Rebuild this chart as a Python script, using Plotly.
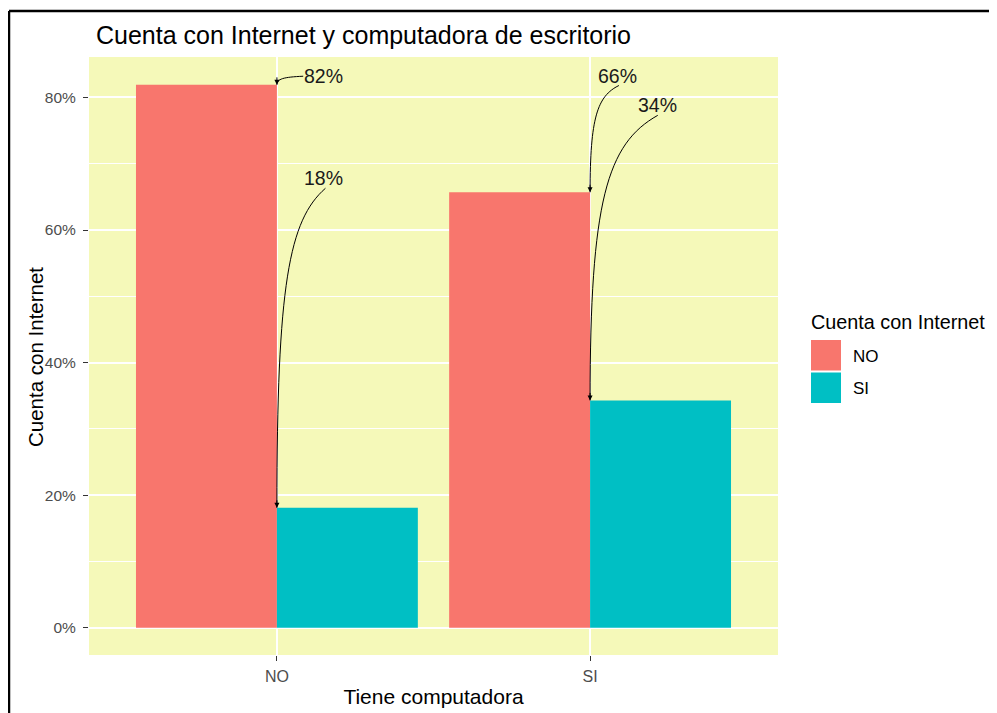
import plotly.graph_objects as go

# ---- data ----
computadora = ["NO", "SI"]            # x categories (Tiene computadora)
internet_groups = ["NO", "SI"]        # fill groups (Cuenta con Internet)
pct_internet_no = [81.9, 65.7]        # % without internet, per computadora group
pct_internet_si = [18.1, 34.3]        # % with internet, per computadora group
y_ticks = [0, 20, 40, 60, 80]
y_ticklabels = ["0%", "20%", "40%", "60%", "80%"]

colors = {"NO": "#F8766D", "SI": "#00BFC4"}
series = {"NO": pct_internet_no, "SI": pct_internet_si}
x_pos = list(range(1, len(computadora) + 1))

# label placement (layout, data units): (label x, label y, curve start x, curve start y)
label_layout = {
    (0, "NO"): (1.148, 83.3, 1.084, 83.2),
    (0, "SI"): (1.148, 67.8, 1.155, 66.3),
    (1, "NO"): (2.088, 83.3, 2.092, 81.8),
    (1, "SI"): (2.216, 78.9, 2.216, 77.3),
}

fig = go.Figure()
for g in internet_groups:
    fig.add_trace(go.Bar(
        x=x_pos, y=series[g], name=g,
        marker=dict(color=colors[g], line=dict(width=0)),
        showlegend=False,
    ))

shapes = []
annotations = []
for (ci, g), (lx, ly, sx, sy) in label_layout.items():
    val = series[g][ci]
    ex, ey = x_pos[ci], val
    c1x, c1y = sx + 0.75 * (ex - sx), sy + 0.1 * (ey - sy)
    c2x, c2y = ex, sy + 0.3 * (ey - sy)
    shapes.append(dict(
        type="path", xref="x", yref="y",
        path=f"M {sx},{sy} C {c1x},{c1y} {c2x},{c2y} {ex},{ey}",
        line=dict(color="black", width=1),
    ))
    annotations.append(dict(
        x=ex, y=ey, xref="x", yref="y", text="", showarrow=True,
        ax=0, ay=-9, arrowhead=2, arrowsize=1, arrowwidth=1, arrowcolor="black",
        standoff=0,
    ))
    annotations.append(dict(
        x=lx, y=ly, xref="x", yref="y", text=f"{round(val)}%", showarrow=False,
        font=dict(size=19.5, color="#1a1a1a", family="Arial, Liberation Sans"),
        xanchor="center", yanchor="middle",
    ))

# page offset (body margin) compensation: screen px -> figure px
OFF = 8
W, H = 997, 713
L, R, T, B = 89 - OFF, W - (778 - OFF), 57 - OFF, H - (655 - OFF)
pw, ph = W - L - R, H - T - B
def px(xs):
    return (xs - OFF - L) / pw
def py(ys):
    return (H - B - (ys - OFF)) / ph

# y-axis title
annotations.append(dict(
    x=px(35), y=py(357), xref="paper", yref="paper", text="Cuenta con Internet",
    showarrow=False, xanchor="center", yanchor="middle", textangle=-90,
    font=dict(size=20.5, color="black", family="Arial, Liberation Sans"),
))

# legend
annotations.append(dict(
    x=px(809), y=py(322), xref="paper", yref="paper", text="Cuenta con Internet",
    showarrow=False, xanchor="left", yanchor="middle",
    font=dict(size=19.8, color="black", family="Arial, Liberation Sans"),
))
for i, g in enumerate(internet_groups):
    top = 340 + i * 32.5
    shapes.append(dict(
        type="rect", xref="paper", yref="paper",
        x0=px(811), x1=px(841), y0=py(top + 30.5), y1=py(top),
        fillcolor=colors[g], line=dict(width=0),
    ))
    annotations.append(dict(
        x=px(851), y=py(top + 16), xref="paper", yref="paper", text=g,
        showarrow=False, xanchor="left", yanchor="middle",
        font=dict(size=17, color="black", family="Arial, Liberation Sans"),
    ))

# outer black frame (top and left edges)
shapes.append(dict(type="line", xref="paper", yref="paper",
                   x0=px(9), x1=px(1010), y0=py(11), y1=py(11),
                   line=dict(color="black", width=2.5)))
shapes.append(dict(type="line", xref="paper", yref="paper",
                   x0=px(9), x1=px(9), y0=py(11), y1=py(730),
                   line=dict(color="black", width=2.5)))

fig.update_layout(
    width=W, height=H,
    margin=dict(l=L, r=R, t=T, b=B, pad=0),
    paper_bgcolor="white",
    plot_bgcolor="#F5F9B9",
    barmode="group", bargap=0.1, bargroupgap=0,
    title=dict(text="Cuenta con Internet y computadora de escritorio",
               x=(96 - OFF) / W, xref="container", xanchor="left",
               y=1 - (35 - OFF) / H, yref="container", yanchor="middle",
               font=dict(size=25, color="black", family="Arial, Liberation Sans")),
    font=dict(family="Arial, Liberation Sans"),
    shapes=shapes, annotations=annotations,
    showlegend=False,
)
fig.update_xaxes(
    range=[0.4, 2.6], tickvals=x_pos, ticktext=computadora,
    showgrid=True, gridcolor="white", gridwidth=1.5, zeroline=False,
    ticks="outside", ticklen=5, tickcolor="#333333", tickwidth=1,
    ticklabelstandoff=2,
    tickfont=dict(size=16, color="#4D4D4D"),
    title=dict(text="Tiene computadora", font=dict(size=21, color="black"), standoff=5),
    showline=False,
)
fig.update_yaxes(
    range=[-4.1, 86.1], tickvals=y_ticks, ticktext=y_ticklabels,
    showgrid=True, gridcolor="white", gridwidth=1.5, zeroline=False,
    minor=dict(tickvals=[10, 30, 50, 70], showgrid=True, gridcolor="white", gridwidth=0.7, ticks=""),
    ticks="outside", ticklen=5, tickcolor="#333333", tickwidth=1,
    ticklabelstandoff=4,
    tickfont=dict(size=15.5, color="#4D4D4D"),
    showline=False,
)

fig.write_html("out.html")
